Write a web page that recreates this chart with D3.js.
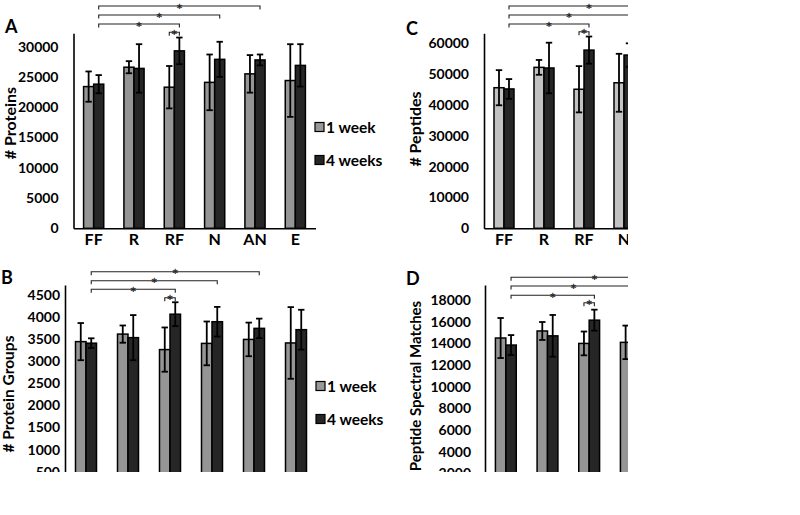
<!DOCTYPE html>
<html><head><meta charset="utf-8">
<script src="https://cdn.jsdelivr.net/npm/d3@7"></script>
<style>html,body{margin:0;padding:0;background:#fff;}</style>
</head><body>
<script>
// ---------- data ----------
const categories = ["FF", "R", "RF", "N", "AN", "E"];
const series = ["1 week", "4 weeks"];

// A: # Proteins
const proteins1w    = [23400, 26600, 23300, 24100, 25500, 24400];
const proteins1wErr = [2500, 1000, 3500, 4600, 3100, 6000];
const proteins4w    = [23800, 26400, 29300, 27900, 27800, 26900];
const proteins4wErr = [1500, 4000, 2200, 2900, 900, 3500];
const proteinTicks  = [0, 5000, 10000, 15000, 20000, 25000, 30000];

// B: # Protein Groups (lower part of panel cut off)
const groups1w    = [3440, 3610, 3260, 3400, 3490, 3410];
const groups1wErr = [420, 195, 500, 495, 380, 810];
const groups4w    = [3405, 3530, 4060, 3890, 3740, 3710];
const groups4wErr = [110, 510, 270, 335, 220, 450];
const groupTicks  = [0, 500, 1000, 1500, 2000, 2500, 3000, 3500, 4000, 4500];

// C: # Peptides (right part of panel cut off; only visible groups)
const peptides1w    = [45600, 52200, 45100, 47200];
const peptides1wErr = [5700, 2400, 7500, 9400];
const peptides4w    = [45200, 52000, 57800, 56200];
const peptides4wErr = [3200, 8200, 4400, 3800];
const peptideTicks  = [0, 10000, 20000, 30000, 40000, 50000, 60000];

// D: Peptide Spectral Matches (right and lower part cut off)
const psm1w    = [14500, 15150, 14000, 14100];
const psm1wErr = [1850, 830, 1100, 1550];
const psm4w    = [13850, 14700, 16150];
const psm4wErr = [920, 1930, 970];
const psmTicks = [0, 2000, 4000, 6000, 8000, 10000, 12000, 14000, 16000, 18000];

// significance: FF (4 weeks) vs these (4 weeks); and 1 vs 4 weeks within RF
const sigVsFF = ["RF", "N", "AN"];
const sigPair = "RF";

// ---------- drawing ----------
const FONT = "Lato, 'Open Sans', 'DejaVu Sans', sans-serif";
const DARK = "#262626";

const svg = d3.select("body").append("svg")
  .attr("width", 800).attr("height", 515)
  .style("display", "block");
svg.append("rect").attr("width", 800).attr("height", 515).attr("fill", "#fff");
const defs = svg.append("defs");

function panel(cfg) {
  defs.append("clipPath").attr("id", cfg.id)
    .append("rect").attr("x", cfg.clip[0]).attr("y", cfg.clip[1])
    .attr("width", cfg.clip[2]).attr("height", cfg.clip[3]);
  const g = svg.append("g").attr("clip-path", `url(#${cfg.id})`);

  const x = d3.scaleBand().domain(categories).range(cfg.xRange)
    .paddingInner(0.5).paddingOuter(0.25);
  const x1 = d3.scaleBand().domain(series).range([0, x.bandwidth()]);
  const y = d3.scaleLinear().domain(cfg.yDomain).range(cfg.yRange);

  // y axis
  const ya = g.append("g").attr("transform", `translate(${cfg.xRange[0]},0)`)
    .call(d3.axisLeft(y).tickValues(cfg.ticks).tickSize(0).tickPadding(cfg.tickPad)
      .tickFormat(d3.format("d")));
  ya.attr("font-family", FONT).attr("font-size", 14).attr("font-weight", 700);
  ya.select(".domain").attr("stroke", "#000").attr("stroke-width", 1.6);
  ya.selectAll("text").attr("fill", "#000");

  // x axis
  const xa = g.append("g").attr("transform", `translate(0,${y(0)})`)
    .call(d3.axisBottom(x).tickSize(0).tickPadding(5.5));
  xa.attr("font-family", FONT).attr("font-size", 16).attr("font-weight", 700);
  xa.select(".domain").attr("stroke", "#000").attr("stroke-width", 1.6);
  xa.selectAll("text").attr("fill", "#000");

  // bars + error bars
  series.forEach((s, si) => {
    const vals = cfg.values[si], errs = cfg.errs[si];
    const rows = vals.map((v, i) => ({ c: categories[i], v: v, e: errs[i] }));
    const cx = d => x(d.c) + x1(s) + x1.bandwidth() / 2;
    g.append("g").selectAll("rect").data(rows).join("rect")
      .attr("x", d => x(d.c) + x1(s))
      .attr("y", d => y(d.v))
      .attr("width", x1.bandwidth())
      .attr("height", d => y(0) - y(d.v))
      .attr("fill", si === 0 ? cfg.light : DARK)
      .attr("stroke", "#000").attr("stroke-width", 1.5);
    const eb = g.append("g").attr("stroke", "#000").attr("stroke-width", 1.8);
    eb.selectAll("line.v").data(rows).join("line").attr("class", "v")
      .attr("x1", cx).attr("x2", cx)
      .attr("y1", d => y(d.v + d.e)).attr("y2", d => y(d.v - d.e));
    eb.selectAll("line.t").data(rows).join("line").attr("class", "t")
      .attr("x1", d => cx(d) - 3.2).attr("x2", d => cx(d) + 3.2)
      .attr("y1", d => y(d.v + d.e)).attr("y2", d => y(d.v + d.e));
    eb.selectAll("line.b").data(rows).join("line").attr("class", "b")
      .attr("x1", d => cx(d) - 3.2).attr("x2", d => cx(d) + 3.2)
      .attr("y1", d => y(d.v - d.e)).attr("y2", d => y(d.v - d.e));
  });

  // significance brackets
  const c4 = c => x(c) + x1("4 weeks") + x1.bandwidth() / 2;
  const c1 = c => x(c) + x1("1 week") + x1.bandwidth() / 2;
  const br = g.append("g").attr("stroke", "#222").attr("stroke-width", 1.1).attr("fill", "none");
  const st = g.append("g").attr("font-family", "'DejaVu Sans', sans-serif").attr("font-size", 11)
    .attr("text-anchor", "middle").attr("fill", "#222")
    .attr("stroke", "#222").attr("stroke-width", 0.3);
  function bracket(xa_, xb_, yy) {
    br.append("path").attr("d", `M${xa_},${yy + 3.5}V${yy}H${xb_}V${yy + 3.5}`);
    st.append("text").attr("x", (xa_ + xb_) / 2).attr("y", yy + 5.5).text("*");
  }
  sigVsFF.forEach((c, i) => bracket(c4("FF"), c4(c), cfg.brY[i]));
  bracket(c1(sigPair), c4(sigPair), cfg.pairY);

  // panel letter
  g.append("text").attr("x", cfg.letterPos[0]).attr("y", cfg.letterPos[1])
    .attr("font-family", FONT).attr("font-size", 18).attr("font-weight", 700)
    .attr("fill", "#000").text(cfg.letter);

  // y title
  g.append("text")
    .attr("transform", `translate(${cfg.titlePos[0]},${cfg.titlePos[1]}) rotate(-90)`)
    .attr("text-anchor", "middle")
    .attr("font-family", FONT).attr("font-size", cfg.titleSize).attr("font-weight", 700)
    .attr("fill", "#000").text(cfg.title);

  // legend
  if (cfg.legend) {
    series.forEach((s, i) => {
      const ly = cfg.legend[1] + i * 33;
      g.append("rect").attr("x", cfg.legend[0]).attr("y", ly - 4.5)
        .attr("width", 9).attr("height", 9)
        .attr("fill", i === 0 ? "#999" : DARK).attr("stroke", "#000").attr("stroke-width", 1.2);
      g.append("text").attr("x", cfg.legend[0] + 11).attr("y", ly + 5.5)
        .attr("font-family", FONT).attr("font-size", 15.5).attr("font-weight", 700)
        .attr("fill", "#000").text(s);
    });
  }
}

panel({
  id: "clipA", clip: [0, 0, 400, 255], letter: "A", letterPos: [5, 33],
  title: "# Proteins", titleSize: 16, titlePos: [16, 123],
  xRange: [73.5, 315.5], yDomain: [0, 32200], yRange: [228.3, 33.3],
  ticks: proteinTicks, tickPad: 15,
  values: [proteins1w, proteins4w], errs: [proteins1wErr, proteins4wErr],
  light: "#959595", brY: [24, 15, 6], pairY: 32.3, legend: [315, 127]
});
panel({
  id: "clipB", clip: [0, 255, 400, 217], letter: "B", letterPos: [1, 284],
  title: "# Protein Groups", titleSize: 15.5, titlePos: [14, 394],
  xRange: [65, 317], yDomain: [0, 4720], yRange: [493.8, 285],
  ticks: groupTicks, tickPad: 5,
  values: [groups1w, groups4w], errs: [groups1wErr, groups4wErr],
  light: "#959595", brY: [289.3, 280.7, 271.7], pairY: 297.7, legend: [316, 386]
});
panel({
  id: "clipC", clip: [400, 0, 228, 255], letter: "C", letterPos: [406, 35],
  title: "# Peptides", titleSize: 16, titlePos: [421, 129],
  xRange: [484, 724], yDomain: [0, 63250], yRange: [228.3, 33.3],
  ticks: peptideTicks, tickPad: 15,
  values: [peptides1w, peptides4w], errs: [peptides1wErr, peptides4wErr],
  light: "#c2c2c2", brY: [24, 15, 6], pairY: 31.7, legend: null
});
panel({
  id: "clipD", clip: [400, 255, 228, 217], letter: "D", letterPos: [406, 285],
  title: "Peptide Spectral Matches", titleSize: 15, titlePos: [421, 386],
  xRange: [485, 735], yDomain: [0, 19400], yRange: [494.9, 285],
  ticks: psmTicks, tickPad: 14,
  values: [psm1w, psm4w], errs: [psm1wErr, psm4wErr],
  light: "#959595", brY: [295.3, 286, 277.3], pairY: 302.7, legend: null
});
</script>
</body></html>
